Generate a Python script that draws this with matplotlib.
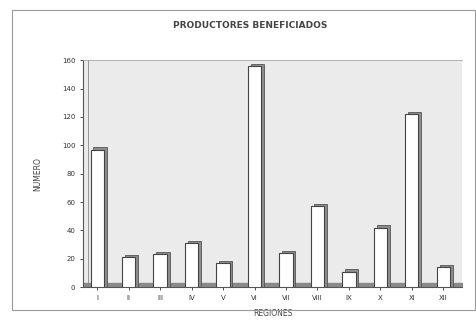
import numpy as np
import matplotlib.pyplot as plt
from matplotlib.patches import Rectangle

# data
regiones = ['I', 'II', 'III', 'IV', 'V', 'VI', 'VII', 'VIII', 'IX', 'X', 'XI', 'XII']
productores = [97, 21, 23, 31, 17, 156, 24, 57, 11, 42, 122, 14]
y_ticks = [0, 20, 40, 60, 80, 100, 120, 140, 160]

fig = plt.figure(figsize=(4.77, 3.35), dpi=100)
fig.patch.set_facecolor('white')
# outer frame of the scanned chart
fig.patches.append(Rectangle((0.025, 0.075), 0.97, 0.895, transform=fig.transFigure,
                             fill=False, edgecolor='#9a9a9a', lw=0.8))

ax = fig.add_axes([0.174, 0.143, 0.795, 0.677])
ax.set_facecolor('#ebebeb')

x = np.arange(len(regiones))
w = 0.42
dx, dy = 0.09, 1.5  # fake 3D depth

# floor
ax.fill_between([-0.45, 11.6], 0, 3, color='#8a8a8a', zorder=1)
# back wall edge
ax.axvline(-0.3, color='#888888', lw=0.6, zorder=1)
# side / top faces
ax.bar(x + dx, np.array(productores) + dy, width=w, bottom=0,
       color='#8c8c8c', edgecolor='#555555', lw=0.6, zorder=2)
# front faces
ax.bar(x, productores, width=w, color='white', edgecolor='#444444', lw=0.8, zorder=3)

ax.set_xlim(-0.45, 11.6)
ax.set_ylim(0, 160)
ax.set_yticks(y_ticks)
ax.set_xticks(x)
ax.set_xticklabels(regiones)
ax.tick_params(labelsize=5, colors='#333333', length=2, width=0.6)
ax.spines['right'].set_visible(False)
ax.spines['top'].set_color('#aaaaaa')
ax.spines['top'].set_linewidth(0.6)
ax.spines['left'].set_color('#555555')
ax.spines['bottom'].set_color('#555555')

ax.set_xlabel('REGIONES', fontsize=5.5, color='#444444', labelpad=6)
ax.set_ylabel('NUMERO', fontsize=5.5, color='#444444', labelpad=14)
fig.text(0.525, 0.925, 'PRODUCTORES BENEFICIADOS', ha='center', va='center',
         fontsize=6.5, color='#444444', fontweight='bold')

fig.savefig('out.png', dpi=100)
